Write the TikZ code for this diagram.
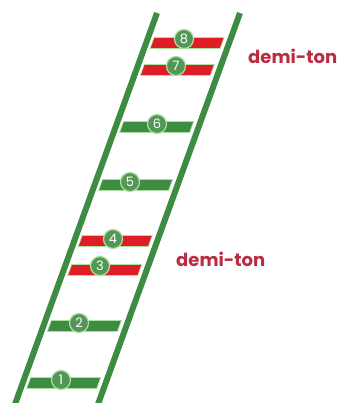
\documentclass[tikz,border=0pt]{standalone}
\usepackage{fontspec}
\setmainfont{Poppins}
\begin{document}
\definecolor{railgreen}{RGB}{62,140,66}
\definecolor{runggreen}{RGB}{62,140,66}
\definecolor{rungred}{RGB}{222,30,36}
\definecolor{edgegreen}{RGB}{170,225,160}
\definecolor{circgreen}{RGB}{84,150,86}
\definecolor{textred}{RGB}{185,45,65}
\begin{tikzpicture}[x=1pt,y=-1pt,
  rail/.style={draw=railgreen,line width=6pt},
  rungbox/.style={draw=edgegreen,line width=0.7pt},
  numdot/.style={circle,fill=circgreen,draw=edgegreen,line width=1.2pt,minimum size=19pt,inner sep=0pt,text=white,font=\fontsize{13}{13}\selectfont},
  label/.style={text=textred,font=\fontsize{18}{18}\selectfont\bfseries,anchor=west,inner sep=0pt}]
\useasboundingbox (0,0) rectangle (342,403);
\clip (0,0) rectangle (342,403);
\fill[white] (0,0) rectangle (342,403);
% rails
\coordinate (lt) at (157,13);
\coordinate (lb) at ({157-0.363*(410-13)},410);
\coordinate (rt) at (240,13);
\coordinate (rb) at ({240-0.363*(410-13)},410);
\draw[rail] (lt) -- (lb);
\draw[rail] (rt) -- (rb);
% rungs: y-center / color / number / circle x / circle y
\foreach \c/\col/\n/\cx/\cy in {43/rungred/8/184/39, 70/rungred/7/176/66, 127/runggreen/6/157/124, 185/runggreen/5/130/182, 241/rungred/4/113/239, 270/rungred/3/100/266, 326/runggreen/2/79/323, 383/runggreen/1/61/380}{
  \pgfmathsetmacro{\ya}{\c-5.5}
  \pgfmathsetmacro{\yb}{\c+5.5}
  \pgfmathsetmacro{\xla}{157-0.363*(\ya-13)+6}
  \pgfmathsetmacro{\xlb}{157-0.363*(\yb-13)+6}
  \pgfmathsetmacro{\xra}{240-0.363*(\ya-13)-7}
  \pgfmathsetmacro{\xrb}{240-0.363*(\yb-13)-7}
  \filldraw[rungbox,fill=\col] (\xla,\ya) -- (\xra,\ya) -- (\xrb,\yb) -- (\xlb,\yb) -- cycle;
  \node[numdot] (n\n) at (\cx,\cy) {\n};
}
\node[label] (d1) at (248,56) {demi-ton};
\node[label] (d2) at (176,259) {demi-ton};
\end{tikzpicture}
\end{document}
